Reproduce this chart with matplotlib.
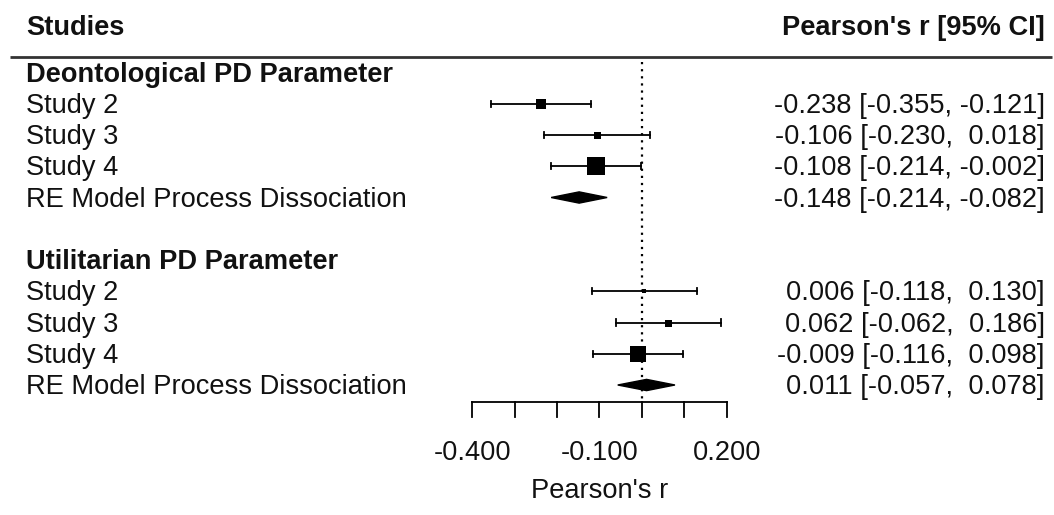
import numpy as np
import matplotlib.pyplot as plt
from matplotlib.patches import Polygon

plt.rcParams['font.family'] = ['Liberation Sans', 'DejaVu Sans']

# ---------------- data ----------------
groups = ['Deontological PD Parameter', 'Utilitarian PD Parameter']
study_labels = ['Study 2', 'Study 3', 'Study 4']

est = [[-0.238, -0.106, -0.108], [0.006, 0.062, -0.009]]
lo = [[-0.355, -0.230, -0.214], [-0.118, -0.062, -0.116]]
hi = [[-0.121, 0.018, -0.002], [0.130, 0.186, 0.098]]
# relative study weights (box size)
weights = [[10, 7, 18], [5, 7, 16]]

re_est = [-0.148, 0.011]
re_lo = [-0.214, -0.057]
re_hi = [-0.082, 0.078]

ticks = [-0.4, -0.3, -0.2, -0.1, 0.0, 0.1, 0.2]
tick_labels = {-0.4: '-0.400', -0.1: '-0.100', 0.2: '0.200'}

# ---------------- layout ----------------
fs = 19.6
txt = '#111111'
x_left = -1.453
x_right = 0.950
cap = 0.29  # baseline offset (rows) so text is centered on a row

fig = plt.figure(figsize=(10.54, 5.15), dpi=100)
ax = fig.add_axes([0, 0, 1, 1])
ax.set_xlim(-1.514, 0.972)
ax.set_ylim(-3.16, 13.32)
ax.axis('off')


def fmt(v, width=6):
    s = '{:.3f}'.format(v)
    return s.rjust(width)


def ci_text(e, l, h):
    return '{} [{}, {}]'.format('{:.3f}'.format(e), '{:.3f}'.format(l), fmt(h))


# header
ax.text(x_left, 12.5 - cap, 'Studies', fontsize=fs, fontweight='bold', color=txt, va='baseline')
ax.text(x_right, 12.5 - cap, "Pearson's r [95% CI]", fontsize=fs, fontweight='bold',
        color=txt, va='baseline', ha='right')
ax.plot([-1.49, 0.968], [11.5, 11.5], color='#333333', lw=2.0, solid_capstyle='butt')

# zero line
ax.plot([0, 0], [11.35, 0.46], color='black', lw=1.6, linestyle=(0, (1, 2.2)))

group_top = [11, 5]
for g in range(2):
    top = group_top[g]
    ax.text(x_left, top - cap, groups[g], fontsize=fs, fontweight='bold', color=txt, va='baseline')
    for i in range(3):
        y = top - 1 - i
        ax.text(x_left, y - cap, study_labels[i], fontsize=fs, color=txt, va='baseline')
        ax.plot([lo[g][i], hi[g][i]], [y, y], color='black', lw=1.3)
        for xc in (lo[g][i], hi[g][i]):
            ax.plot([xc, xc], [y - 0.1, y + 0.1], color='black', lw=1.3)
        ax.plot(est[g][i], y, marker='s', color='black', markersize=weights[g][i] * 0.72,
                markeredgewidth=0)
        ax.text(x_right, y - cap, ci_text(est[g][i], lo[g][i], hi[g][i]), fontsize=fs,
                color=txt, va='baseline', ha='right')
    y = top - 4
    ax.text(x_left, y - cap, 'RE Model Process Dissociation', fontsize=fs, color=txt, va='baseline')
    ax.add_patch(Polygon([[re_lo[g], y], [re_est[g], y + 0.18], [re_hi[g], y], [re_est[g], y - 0.18]],
                         closed=True, color='black'))
    ax.text(x_right, y - cap, ci_text(re_est[g], re_lo[g], re_hi[g]), fontsize=fs,
            color=txt, va='baseline', ha='right')

# x axis
axis_y = 0.46
ax.plot([ticks[0], ticks[-1]], [axis_y, axis_y], color='black', lw=1.3)
for t in ticks:
    ax.plot([t, t], [axis_y, -0.03], color='black', lw=1.3)
    if t in tick_labels:
        ax.text(t, -1.12 - cap, tick_labels[t], fontsize=fs, color=txt, va='baseline', ha='center')
ax.text(-0.1, -2.32 - cap, "Pearson's r", fontsize=fs, color=txt, va='baseline', ha='center')

fig.savefig('out.png', dpi=100)
